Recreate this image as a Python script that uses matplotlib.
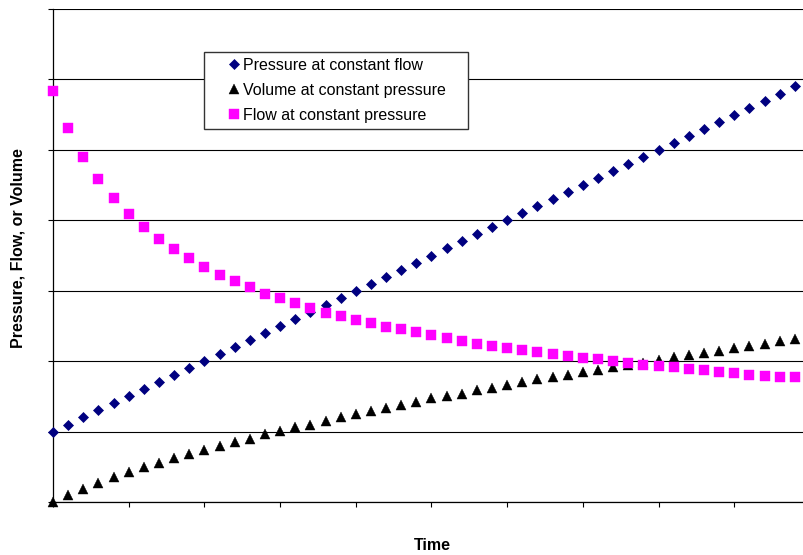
import numpy as np
import matplotlib
matplotlib.use("Agg")
import matplotlib.pyplot as plt

plt.rcParams['font.family'] = ['Liberation Sans', 'DejaVu Sans']

# one reading per time step
time_steps = list(range(50))

pressure_const_flow = [1.0, 1.1, 1.2, 1.3, 1.4, 1.5, 1.6, 1.7, 1.8, 1.9,
                       2.0, 2.1, 2.2, 2.3, 2.4, 2.5, 2.6, 2.7, 2.8, 2.9,
                       3.0, 3.1, 3.2, 3.3, 3.4, 3.5, 3.6, 3.7, 3.8, 3.9,
                       4.0, 4.1, 4.2, 4.3, 4.4, 4.5, 4.6, 4.7, 4.8, 4.9,
                       5.0, 5.1, 5.2, 5.3, 5.4, 5.5, 5.6, 5.7, 5.8, 5.9]

volume_const_pressure = [0.00, 0.10, 0.19, 0.27, 0.35, 0.42, 0.49, 0.56, 0.63, 0.68,
                         0.74, 0.80, 0.85, 0.90, 0.96, 1.01, 1.06, 1.10, 1.15, 1.20,
                         1.25, 1.29, 1.34, 1.38, 1.42, 1.47, 1.51, 1.54, 1.59, 1.62,
                         1.66, 1.70, 1.74, 1.78, 1.81, 1.85, 1.88, 1.91, 1.94, 1.98,
                         2.02, 2.06, 2.09, 2.12, 2.15, 2.19, 2.22, 2.25, 2.28, 2.31]

flow_const_pressure = [5.84, 5.31, 4.90, 4.58, 4.31, 4.09, 3.90, 3.73, 3.59, 3.46,
                       3.34, 3.23, 3.14, 3.05, 2.96, 2.89, 2.82, 2.76, 2.69, 2.64,
                       2.59, 2.54, 2.49, 2.45, 2.41, 2.37, 2.33, 2.29, 2.25, 2.22,
                       2.19, 2.16, 2.13, 2.10, 2.07, 2.05, 2.03, 2.00, 1.97, 1.95,
                       1.93, 1.91, 1.89, 1.87, 1.85, 1.83, 1.81, 1.79, 1.78, 1.77]

W, H = 804, 555
fig = plt.figure(figsize=(W / 100, H / 100), dpi=100)
# plot area runs a little past the right edge of the image
ax = fig.add_axes([53 / W, (H - 502) / H, (810 - 53) / W, (502 - 9) / H])

ax.plot(time_steps, pressure_const_flow, linestyle='none', marker='D',
        markersize=5.3, color='#000080', markeredgewidth=0.5,
        label='Pressure at constant flow', clip_on=False, zorder=3)
ax.plot(time_steps, volume_const_pressure, linestyle='none', marker='^',
        markersize=7.8, color='black', markeredgewidth=0.3,
        label='Volume at constant pressure', clip_on=False, zorder=3)
ax.plot(time_steps, flow_const_pressure, linestyle='none', marker='s',
        markersize=7.6, color='#FF00FF', markeredgewidth=0.3,
        label='Flow at constant pressure', clip_on=False, zorder=3)

ax.set_xlim(0, 50)
ax.set_ylim(0, 7)
ax.set_xticks(range(0, 51, 5))
ax.set_yticks(range(0, 8))
ax.set_xticklabels([])
ax.set_yticklabels([])
ax.tick_params(direction='out', length=3.5, width=0.8, color='black')
ax.grid(axis='y', color='black', linewidth=0.8)
ax.set_axisbelow(True)
for side in ('top', 'right'):
    ax.spines[side].set_visible(False)
for side in ('left', 'bottom'):
    ax.spines[side].set_linewidth(0.9)
    ax.spines[side].set_color('black')

fig.text(18.5 / W, 1 - 248 / H, 'Pressure, Flow, or Volume', rotation=90,
         ha='center', va='center', fontsize=11.5, fontweight='bold')
fig.text(432 / W, 1 - 546 / H, 'Time', ha='center', va='center',
         fontsize=11.5, fontweight='bold')

leg = ax.legend(loc='upper left',
                bbox_to_anchor=(204 / W, 1 - 127 / H, (468 - 204) / W, (127 - 52) / H),
                bbox_transform=fig.transFigure, mode='expand', borderaxespad=0,
                fontsize=11.5, frameon=True, fancybox=False, shadow=False,
                handlelength=3.0, handletextpad=-0.94, borderpad=0.38,
                labelspacing=0.61, numpoints=1)
leg.get_frame().set_edgecolor('#333333')
leg.get_frame().set_linewidth(1.0)
leg.get_frame().set_alpha(1)

fig.savefig('out.png', dpi=100)
